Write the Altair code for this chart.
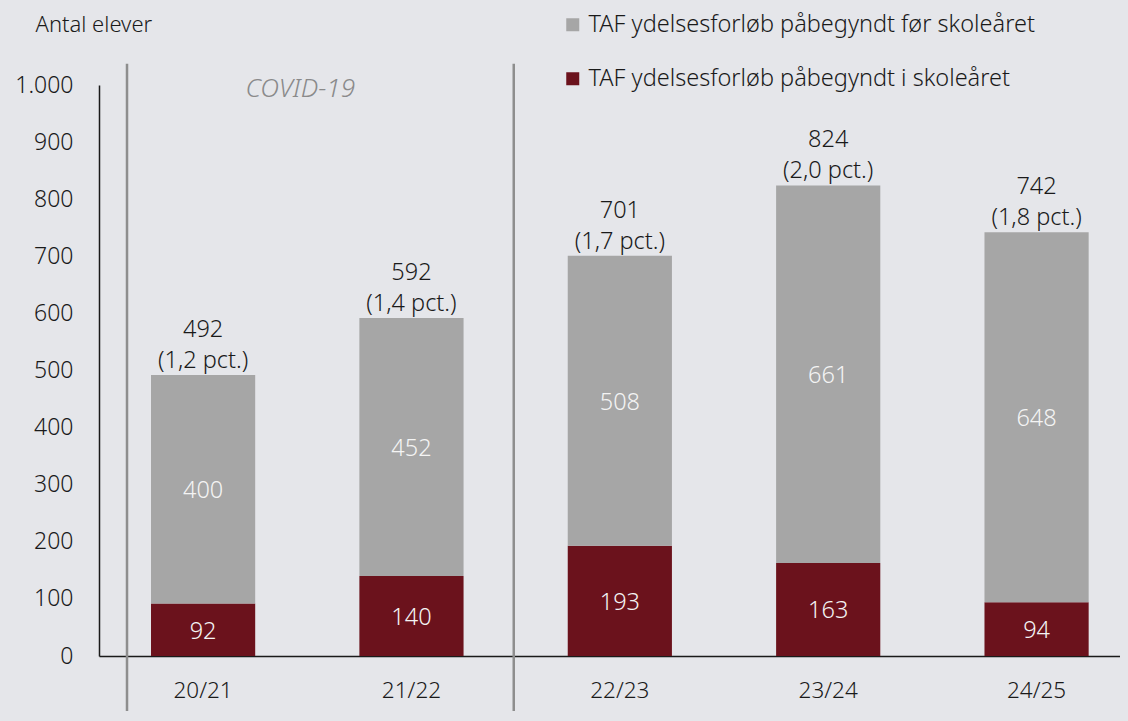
import altair as alt
import pandas as pd
import jinja2

categories = ["20/21", "21/22", "22/23", "23/24", "24/25"]
before_year = [400, 452, 508, 661, 648]
during_year = [92, 140, 193, 163, 94]
pct_labels = ["1,2", "1,4", "1,7", "2,0", "1,8"]

series_before = "TAF ydelsesforløb påbegyndt før skoleåret"
series_during = "TAF ydelsesforløb påbegyndt i skoleåret"

rows = []
for c, b, d in zip(categories, before_year, during_year):
    rows.append({"cat": c, "series": series_during, "value": d, "ord": 0})
    rows.append({"cat": c, "series": series_before, "value": b, "ord": 1})
df = pd.DataFrame(rows)

totals = pd.DataFrame({
    "cat": categories,
    "total": [b + d for b, d in zip(before_year, during_year)],
    "pct": pct_labels,
})

# separator annotations: anchored at band starts
sep_top = 1037
sep_bottom = -140

FONT = "Noto Sans"
BG = "#E5E6EA"
GRAY = "#A6A6A6"
RED = "#6B121C"
TXT = "#1a1a1a"

xscale = alt.Scale(paddingInner=0.5, paddingOuter=0.2, align=0.624)
yscale = alt.Scale(domain=[0, 1000], nice=False)

x_enc = alt.X("cat:N", sort=categories, scale=xscale, title=None,
              axis=alt.Axis(labelAngle=0, labelFontSize=22.5, labelColor=TXT,
                            labelPadding=23, ticks=False, domainColor=TXT,
                            domainWidth=1.5, labelFont=FONT, labelFontWeight=300))

bars = alt.Chart(df).mark_bar().encode(
    x=x_enc,
    y=alt.Y("value:Q", stack="zero", scale=yscale,
            axis=alt.Axis(title="Antal elever", titleAngle=0, titleAlign="left",
                          titleX=-64, titleY=-54, titleBaseline="alphabetic",
                          titleFontSize=22, titleFontWeight=300,
                          titleColor=TXT, titleFont=FONT,
                          values=list(range(0, 1001, 100)), grid=False, ticks=False,
                          labelPadding=26, labelFontSize=23, labelColor=TXT,
                          labelFont=FONT, labelFontWeight=300,
                          domainColor=TXT, domainWidth=1.5,
                          labelExpr="replace(format(datum.value, ','), ',', '.')")),
    color=alt.Color("series:N",
                    scale=alt.Scale(domain=[series_before, series_during], range=[GRAY, RED]),
                    legend=alt.Legend(title=None, orient="none", legendX=462, legendY=-72,
                                      symbolType="square", symbolSize=169,
                                      symbolStrokeWidth=0, labelFontSize=23.5,
                                      labelFont=FONT, labelFontWeight=300, labelColor=TXT,
                                      labelOffset=4, rowPadding=29, labelLimit=600)),
    order=alt.Order("ord:Q", sort="ascending"),
)

inner = alt.Chart(df).transform_stack(
    stack="value", groupby=["cat"], as_=["y0", "y1"], sort=[alt.SortField("ord")]
).transform_calculate(
    mid="(datum.y0 + datum.y1) / 2"
).mark_text(fontSize=23.5, color="#F4F4F4", font=FONT, fontWeight=300,
            baseline="middle", dy=2).encode(
    x=alt.X("cat:N", sort=categories, scale=xscale),
    y=alt.Y("mid:Q", scale=yscale),
    text="value:Q",
)

top_labels = alt.Chart(totals).transform_calculate(
    lab="[format(datum.total, 'd'), '(' + datum.pct + ' pct.)']"
).mark_text(fontSize=23.5, color=TXT, font=FONT, fontWeight=300, baseline="alphabetic",
            lineHeight=31, dy=-38).encode(
    x=alt.X("cat:N", sort=categories, scale=xscale),
    y=alt.Y("total:Q", scale=yscale),
    text="lab:N",
)

def sep(cat, offset):
    d = pd.DataFrame({"cat": [cat], "top": [sep_top], "bottom": [sep_bottom]})
    return alt.Chart(d).mark_rule(color="#8E8E8E", strokeWidth=2.5, xOffset=offset).encode(
        x=alt.X("cat:N", sort=categories, scale=xscale, bandPosition=0),
        y=alt.Y("top:Q", scale=yscale),
        y2="bottom:Q",
    )

sep1 = sep("20/21", -24)
sep2 = sep("22/23", -54)

covid_df = pd.DataFrame({"cat": ["20/21"], "v": [993], "label": ["COVID-19"]})
covid = alt.Chart(covid_df).mark_text(fontSize=26, fontStyle="italic", fontWeight=300,
                                      color="#8A8A8A", font=FONT,
                                      baseline="middle", dx=45).encode(
    x=alt.X("cat:N", sort=categories, scale=xscale, bandPosition=1),
    y=alt.Y("v:Q", scale=yscale),
    text="label:N",
)

chart = alt.layer(bars, sep1, sep2, inner, top_labels, covid).properties(
    width=1021, height=571,
    autosize=alt.AutoSizeParams(type="none"),
    padding={"left": 91, "top": 77, "right": 0, "bottom": 55},
    background=BG,
).configure_view(stroke=None, clip=False)

page_template = jinja2.Template("""<!DOCTYPE html>
<html>
<head>
  <style>
    body { background: """ + BG + """; }
    #{{ output_div }}.vega-embed { width: 100%; display: flex; }
    #{{ output_div }}.vega-embed details,
    #{{ output_div }}.vega-embed details summary { position: relative; }
  </style>
  <script type="text/javascript" src="{{ base_url }}/vega@{{ vega_version }}"></script>
  <script type="text/javascript" src="{{ base_url }}/vega-lite@{{ vegalite_version }}"></script>
  <script type="text/javascript" src="{{ base_url }}/vega-embed@{{ vegaembed_version }}"></script>
</head>
<body>
  <div id="{{ output_div }}"></div>
  <script>
    (function(vegaEmbed) {
      var spec = {{ spec }};
      var embedOpt = {{ embed_options }};
      function showError(el, error){
          el.innerHTML = ('<div style="color:red;"><p>JavaScript Error: ' + error.message + '</p></div>');
          throw error;
      }
      const el = document.getElementById('{{ output_div }}');
      vegaEmbed("#{{ output_div }}", spec, embedOpt).catch(error => showError(el, error));
    })(vegaEmbed);
  </script>
</body>
</html>
""")

chart.save("out.html", embed_options={"renderer": "svg", "actions": False},
           template=page_template)
